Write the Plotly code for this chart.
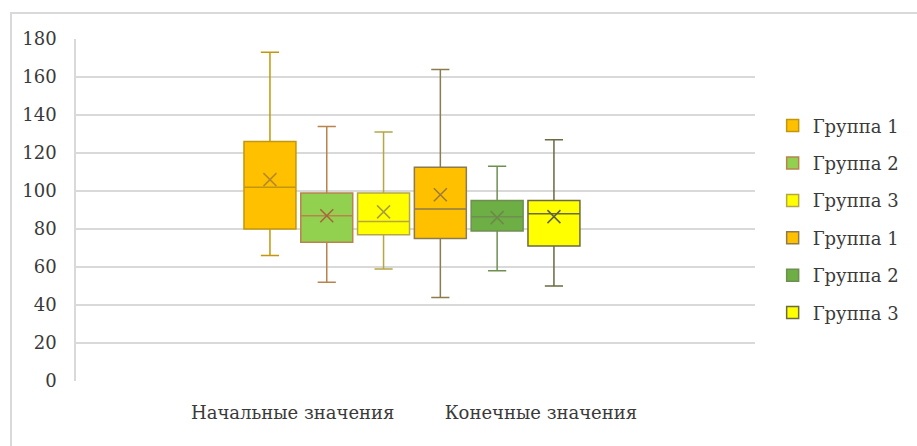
import plotly.graph_objects as go

# Categories and series
categories = ["Начальные значения", "Конечные значения"]
groups = ["Группа 1", "Группа 2", "Группа 3"]

# Five-number summaries plus mean, per category (rows) and group (columns)
lower = [[66, 52, 59], [44, 58, 50]]
q1 = [[80, 73, 77], [75, 79, 71]]
median = [[102, 87, 84], [90.5, 86.5, 88]]
q3 = [[126, 99, 99], [112.5, 95, 95]]
upper = [[173, 134, 131], [164, 113, 127]]
mean = [[106, 87, 89], [98, 86, 86.5]]

y_ticks = [0, 20, 40, 60, 80, 100, 120, 140, 160, 180]

# Styling per series (category, group)
fills = [["#FFC000", "#92D050", "#FFFF00"], ["#FFC000", "#6DAE45", "#FFFF00"]]
edges = [["#C4960C", "#B9834E", "#B3A845"], ["#8C7B4E", "#6F8F52", "#6B6A40"]]
marks = [["#B8892A", "#A8643A", "#A79E3C"], ["#9C7A3A", "#6C8A48", "#5F6244"]]

SERIF = "DejaVu Serif"
n_groups = len(groups)

fig = go.Figure()
for ci, cat in enumerate(categories):
    for gi, grp in enumerate(groups):
        pos = ci * n_groups + gi
        fig.add_trace(go.Box(
            name=grp,
            x=[pos],
            lowerfence=[lower[ci][gi]],
            q1=[q1[ci][gi]],
            median=[median[ci][gi]],
            q3=[q3[ci][gi]],
            upperfence=[upper[ci][gi]],
            width=0.915,
            whiskerwidth=0.35,
            fillcolor=fills[ci][gi],
            line=dict(color=edges[ci][gi], width=1.5),
            legendgroup=f"{ci}-{gi}",
            hoverinfo="skip",
        ))
        fig.add_trace(go.Scatter(
            x=[pos],
            y=[mean[ci][gi]],
            mode="markers",
            marker=dict(symbol="x-thin", size=13,
                        line=dict(color=marks[ci][gi], width=1.5)),
            showlegend=False,
            legendgroup=f"{ci}-{gi}",
            hoverinfo="skip",
        ))

fig.update_layout(
    width=917,
    height=446,
    margin=dict(l=76, r=162, t=39, b=65),
    paper_bgcolor="white",
    plot_bgcolor="white",
    showlegend=True,
    legend=dict(
        x=1.026, y=0.80, xanchor="left", yanchor="top",
        font=dict(family=SERIF, size=18, color="#3A3A3A"),
        traceorder="grouped",
        tracegroupgap=11,
        itemclick=False,
    ),
    xaxis=dict(
        range=[-3.415, 8.54],
        tickmode="array",
        tickvals=[0.4, 4.77],
        ticktext=categories,
        showgrid=False,
        zeroline=False,
        showline=False,
        ticks="",
        ticklabelstandoff=19,
        tickfont=dict(family=SERIF, size=18, color="#3A3A3A"),
    ),
    yaxis=dict(
        range=[0, 180],
        tickmode="array",
        tickvals=y_ticks,
        showgrid=True,
        gridcolor="#D9D9D9",
        gridwidth=1.5,
        zeroline=False,
        showline=True,
        linecolor="#D9D9D9",
        linewidth=1.5,
        ticks="",
        ticklabelstandoff=14,
        tickfont=dict(family=SERIF, size=18, color="#3A3A3A"),
    ),
    shapes=[dict(
        type="rect", xref="paper", yref="paper",
        x0=-0.0957, x1=1.25, y0=-0.25, y1=1.076,
        line=dict(color="#D9D9D9", width=2),
        layer="below",
    )],
)

fig.write_html("out.html")
